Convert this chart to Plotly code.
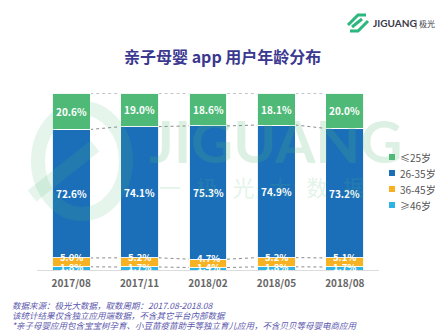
import plotly.graph_objects as go

categories = ["2017/08", "2017/11", "2018/02", "2018/05", "2018/08"]
series_names = ["≥46岁", "36-45岁", "26-35岁", "≤25岁"]
age_46_plus = [1.8, 1.7, 1.4, 1.8, 1.7]
age_36_45 = [5.0, 5.2, 4.7, 5.2, 5.1]
age_26_35 = [72.6, 74.1, 75.3, 74.9, 73.2]
age_25_less = [20.6, 19.0, 18.6, 18.1, 20.0]
colors = ["#2eb3e6", "#f6b222", "#1b6fb9", "#4fba78"]

title = "亲子母婴 app 用户年龄分布"
notes = [
    "数据来源：极光大数据，取数周期：2017.08-2018.08",
    "该统计结果仅含独立应用端数据，不含其它平台内部数据",
    "*亲子母婴应用包含宝宝树孕育、小豆苗疫苗助手等独立育儿应用，不含贝贝等母婴电商应用",
]

FONT = "Noto Sans CJK SC"
series = [age_46_plus, age_36_45, age_26_35, age_25_less]
xs = list(range(len(categories)))
bar_w = 0.555

W, H = 445, 335
l, r, t, b = 37, 66, 93, 65
pw, ph = W - l - r, H - t - b


def px(xp):
    return (xp - l) / pw


def py(yp):
    return (H - b - yp) / ph


fig = go.Figure()
for name, vals, col in zip(series_names, series, colors):
    fig.add_trace(go.Bar(
        x=xs, y=vals, name=name, width=bar_w,
        marker=dict(color=col, line=dict(color="rgba(255,255,255,0.9)", width=1)),
        hoverinfo="skip", showlegend=False,
    ))

annotations = []
shapes = []
# segment labels
label_shift = [1.5, 5, 0, 0]
base = [0.0] * len(xs)
bounds = []
for k, vals in enumerate(series):
    for i, v in enumerate(vals):
        mid = base[i] + v / 2
        annotations.append(dict(
            x=xs[i], y=mid, xref="x", yref="y", text=f"<b>{v:.1f}%</b>",
            showarrow=False, yshift=label_shift[k], xanchor="center", yanchor="middle",
            font=dict(family=FONT, size=10 if k >= 2 else 9.5, color="white"),
        ))
    base = [bb + v for bb, v in zip(base, vals)]
    bounds.append(list(base))

# dashed connector lines at each boundary
for lvl in bounds:
    for i in range(len(xs) - 1):
        shapes.append(dict(
            type="line", xref="x", yref="y",
            x0=xs[i] + bar_w / 2, x1=xs[i + 1] - bar_w / 2,
            y0=lvl[i], y1=lvl[i + 1],
            line=dict(color="#8c8c8c", width=1, dash="dot"),
            layer="below",
        ))

# title
annotations.append(dict(
    x=px(222), y=py(56), xref="paper", yref="paper", text=f"<b>{title}</b>",
    showarrow=False, xanchor="center", yanchor="middle",
    font=dict(family=FONT, size=16, color="#3b3890"),
))

# footnotes
for j, tx in enumerate(notes):
    annotations.append(dict(
        x=px(10), y=py(305 + 10 * j), xref="paper", yref="paper", text=f"<i>{tx}</i>",
        showarrow=False, xanchor="left", yanchor="middle",
        font=dict(family=FONT, size=8.5, color="#5b58ac"),
    ))

# manual legend (top to bottom: reversed stack order)
for j, idx in enumerate(reversed(range(len(series_names)))):
    yc = 157 + 16 * j
    shapes.append(dict(
        type="rect", xref="paper", yref="paper",
        x0=px(389), x1=px(395), y0=py(yc - 3), y1=py(yc + 3),
        fillcolor=colors[idx], line=dict(width=0),
    ))
    annotations.append(dict(
        x=px(398), y=py(yc), xref="paper", yref="paper", text=series_names[idx],
        showarrow=False, xanchor="left", yanchor="middle",
        font=dict(family=FONT, size=10, color="#555555"),
    ))

# watermark
annotations.append(dict(
    x=px(275), y=py(140), xref="paper", yref="paper", text="<b>JIGUANG</b>",
    showarrow=False, xanchor="center", yanchor="middle",
    font=dict(family="Lato", size=58, color="rgba(79,186,120,0.2)"),
))
annotations.append(dict(
    x=px(262), y=py(186), xref="paper", yref="paper", text="一   极   光   大   数   据",
    showarrow=False, xanchor="center", yanchor="middle",
    font=dict(family=FONT, size=22, color="rgba(79,186,120,0.18)"),
))
# logo
annotations.append(dict(
    x=px(371), y=py(23), xref="paper", yref="paper", text="<b>JIGUANG</b>",
    showarrow=False, xanchor="left", yanchor="middle",
    font=dict(family="Lato", size=10, color="#3a3a4a"),
))
annotations.append(dict(
    x=px(413), y=py(23), xref="paper", yref="paper", text="| 极光",
    showarrow=False, xanchor="left", yanchor="middle",
    font=dict(family=FONT, size=8, color="#3a3a4a"),
))

# logo icon (green strokes)
for path in [
    f"M {px(348)} {py(25)} L {px(358)} {py(15)} L {px(366)} {py(15)}",
    f"M {px(350)} {py(31)} L {px(358)} {py(31)} L {px(368)} {py(21)}",
    f"M {px(352)} {py(27)} L {px(362)} {py(19)}",
]:
    shapes.append(dict(type="path", xref="paper", yref="paper", path=path,
                       line=dict(color="#2bb77e", width=3)))
# big circular watermark
shapes.append(dict(
    type="circle", xref="paper", yref="paper",
    x0=px(38), x1=px(126), y0=py(108), y1=py(214),
    line=dict(color="rgba(79,186,120,0.15)", width=14),
    layer="above",
))
shapes.append(dict(
    type="line", xref="paper", yref="paper",
    x0=px(32), y0=py(196), x1=px(95), y1=py(146),
    line=dict(color="rgba(79,186,120,0.15)", width=14),
    layer="above",
))

fig.update_layout(
    width=W, height=H,
    margin=dict(l=l, r=r, t=t, b=b, autoexpand=False),
    paper_bgcolor="white", plot_bgcolor="white",
    barmode="stack",
    showlegend=False,
    xaxis=dict(
        range=[-0.5, len(xs) - 0.5], tickvals=xs,
        ticktext=[f"<b>{c}</b>" for c in categories],
        tickfont=dict(family=FONT, size=10, color="#666666"),
        showline=True, linecolor="#dcdcdc", linewidth=1,
        showgrid=False, zeroline=False, ticks="",
        ticklabelstandoff=4,
        fixedrange=True,
    ),
    yaxis=dict(range=[0, 100], visible=False, fixedrange=True),
    shapes=shapes,
    annotations=annotations,
)

fig.write_html("out.html")
